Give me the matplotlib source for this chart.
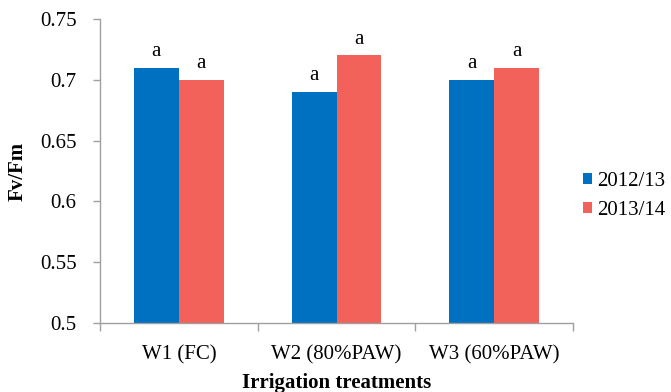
import matplotlib
matplotlib.use("Agg")
import matplotlib.pyplot as plt
import numpy as np

categories = ["W1 (FC)", "W2 (80%PAW)", "W3 (60%PAW)"]
series_names = ["2012/13", "2013/14"]
vals_2012 = [0.71, 0.69, 0.70]
vals_2013 = [0.70, 0.72, 0.71]
letters_2012 = ["a", "a", "a"]
letters_2013 = ["a", "a", "a"]
yticks = [0.5, 0.55, 0.6, 0.65, 0.7, 0.75]
ytick_labels = ["0.5", "0.55", "0.6", "0.65", "0.7", "0.75"]

plt.rcParams['font.family'] = ['Liberation Serif', 'DejaVu Serif']

fig = plt.figure(figsize=(6.71, 3.92), dpi=100)
W, H = 671, 392
ax = fig.add_axes([100 / W, 1 - 323 / H, (573 - 100) / W, (323 - 19) / H])

x = np.arange(len(categories))
bw = 0.285
colors = ["#0070C0", "#F2615A"]
b1 = ax.bar(x - bw / 2, vals_2012, bw, color=colors[0], label=series_names[0])
b2 = ax.bar(x + bw / 2, vals_2013, bw, color=colors[1], label=series_names[1])

for bars, letters in ((b1, letters_2012), (b2, letters_2013)):
    for r, l in zip(bars, letters):
        ax.annotate(l, (r.get_x() + r.get_width() / 2, r.get_height()),
                    xytext=(0, 5), textcoords="offset points",
                    ha="center", va="bottom", fontsize=15)

ax.set_ylim(0.5, 0.75)
ax.set_xlim(-0.5, len(categories) - 0.5)
ax.set_yticks(yticks)
ax.set_yticklabels(ytick_labels, fontsize=15)
ax.set_xticks(x)
ax.set_xticklabels(categories, fontsize=15)
ax.tick_params(axis='x', which='major', length=0, pad=16)
ax.set_xticks(np.arange(len(categories) + 1) - 0.5, minor=True)
ax.tick_params(axis='x', which='minor', length=6, color='#A0A0A0', width=1)
ax.tick_params(axis='y', length=5, color='#A0A0A0', width=1, pad=12)

for s in ['top', 'right']:
    ax.spines[s].set_visible(False)
for s in ['left', 'bottom']:
    ax.spines[s].set_color('#A0A0A0')
    ax.spines[s].set_linewidth(1)

ax.set_ylabel("Fv/Fm", fontsize=15, fontweight='bold', labelpad=9)
ax.set_xlabel("Irrigation treatments", fontsize=15, fontweight='bold', labelpad=6)

fig.legend(handles=[b1, b2], labels=series_names, loc='center left',
           bbox_to_anchor=(583 / W, 1 - 196 / H), frameon=False, fontsize=15,
           borderpad=0, borderaxespad=0,
           handlelength=0.45, handleheight=0.45, handletextpad=0.25, labelspacing=0.45)

fig.savefig("out.png", dpi=100)
